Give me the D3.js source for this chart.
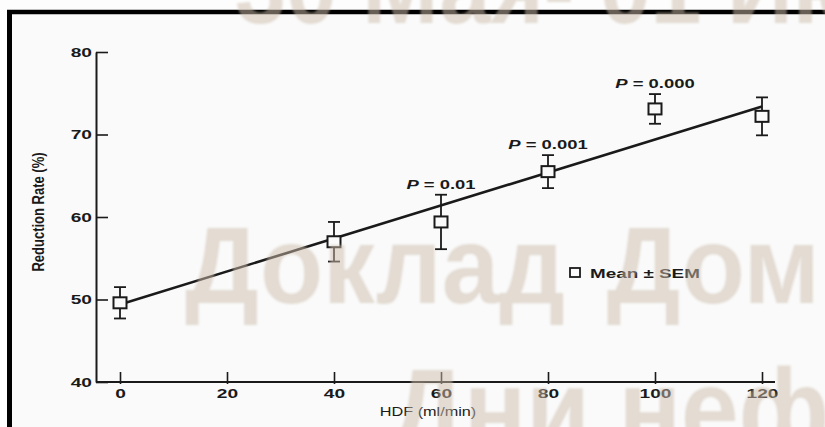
<!DOCTYPE html>
<html>
<head>
<meta charset="utf-8">
<script src="https://cdn.jsdelivr.net/npm/d3@7"></script>
<style>
  html, body { margin: 0; padding: 0; background: #fdfdfd; }
  svg { display: block; }
</style>
</head>
<body>
<svg id="chart" width="825" height="427"></svg>
<script>
// Reduction rate versus HDF flow
const hdfFlow = [0, 40, 60, 80, 100, 120];
const meanRate = [49.6, 57.0, 59.4, 65.5, 73.1, 72.2];
const semRate = [1.9, 2.4, 3.3, 2.0, 1.8, 2.3];

// Linear fit endpoints
const fitFlow = [0, 120];
const fitRate = [49.4, 73.4];

// Significance annotations
const pFlow = [60, 80, 100];
const pValue = ["0.01", "0.001", "0.000"];

const xTicks = [0, 20, 40, 60, 80, 100, 120];
const yTicks = [40, 50, 60, 70, 80];

const xTitle = "HDF (ml/min)";
const yTitle = "Reduction Rate (%)";
const legendText = "Mean \u00b1 SEM";

const bannerLines = ["30 Мая- 01 Июня", "Доклад Дом нефтяников", "Дни нефтяника"];

const svg = d3.select("#chart");
const ink = "#1a1a1a";
const stretch = 1.42;

// panel background and frame
svg.append("rect").attr("x", 7).attr("y", 10).attr("width", 818).attr("height", 417).attr("fill", "#fafafa");
svg.append("line").attr("x1", 7).attr("x2", 825).attr("y1", 12).attr("y2", 12)
  .attr("stroke", "#000").attr("stroke-width", 4.5);
svg.append("line").attr("x1", 9.5).attr("x2", 9.5).attr("y1", 10).attr("y2", 427)
  .attr("stroke", "#000").attr("stroke-width", 5);

const x = d3.scaleLinear().domain([0, 120]).range([120, 762]);
const y = d3.scaleLinear().domain([40, 80]).range([382, 52]);

const font = "'Liberation Sans', Arial, sans-serif";

// y axis
const yAxis = svg.append("g")
  .attr("transform", "translate(96,0)")
  .call(d3.axisLeft(y).tickValues(yTicks).tickSizeInner(-12).tickSizeOuter(0).tickPadding(4));
yAxis.select(".domain").attr("stroke", ink).attr("stroke-width", 2);
yAxis.selectAll(".tick line").attr("stroke", ink).attr("stroke-width", 1.6);
yAxis.selectAll(".tick text")
  .attr("font-family", font).attr("font-weight", "bold").attr("font-size", 13.5).attr("fill", ink)
  .each(function () {
    const t = d3.select(this);
    t.attr("x", +t.attr("x") / stretch).attr("transform", `scale(${stretch},1)`);
  });

// x axis
const xAxis = svg.append("g")
  .attr("transform", "translate(0,382)")
  .call(d3.axisBottom(x).tickValues(xTicks).tickSizeInner(-10).tickSizeOuter(0).tickPadding(6));
xAxis.select(".domain").remove();
xAxis.append("line").attr("x1", 96).attr("x2", 775).attr("y1", 0).attr("y2", 0)
  .attr("stroke", ink).attr("stroke-width", 2);
xAxis.selectAll(".tick line").attr("stroke", ink).attr("stroke-width", 1.6).attr("y1", 2).attr("y2", -10);
xAxis.selectAll(".tick text")
  .attr("font-family", font).attr("font-weight", "bold").attr("font-size", 13.5).attr("fill", ink)
  .attr("transform", `scale(${stretch},1)`);

// axis titles
svg.append("text")
  .attr("transform", `translate(428,416) scale(1.25,1)`)
  .attr("text-anchor", "middle")
  .attr("font-family", font).attr("font-size", 13).attr("fill", ink)
  .text(xTitle);
svg.append("text")
  .attr("transform", `translate(44,212) rotate(-90) scale(1,1.3)`)
  .attr("text-anchor", "middle")
  .attr("font-family", font).attr("font-weight", "bold").attr("font-size", 13).attr("fill", ink)
  .text(yTitle);

// fitted line
const line = d3.line().x(d => x(d[0])).y(d => y(d[1]));
svg.append("path")
  .datum(fitFlow.map((f, i) => [f, fitRate[i]]))
  .attr("d", line)
  .attr("fill", "none").attr("stroke", ink).attr("stroke-width", 2.6);

// error bars and markers
const pts = hdfFlow.map((f, i) => ({ f, m: meanRate[i], s: semRate[i] }));
const capW = 12;
const g = svg.append("g").selectAll("g").data(pts).join("g");
g.append("line")
  .attr("x1", d => x(d.f)).attr("x2", d => x(d.f))
  .attr("y1", d => y(d.m - d.s)).attr("y2", d => y(d.m + d.s))
  .attr("stroke", ink).attr("stroke-width", 1.8);
g.append("line")
  .attr("x1", d => x(d.f) - capW / 2).attr("x2", d => x(d.f) + capW / 2)
  .attr("y1", d => y(d.m + d.s)).attr("y2", d => y(d.m + d.s))
  .attr("stroke", ink).attr("stroke-width", 1.8);
g.append("line")
  .attr("x1", d => x(d.f) - capW / 2).attr("x2", d => x(d.f) + capW / 2)
  .attr("y1", d => y(d.m - d.s)).attr("y2", d => y(d.m - d.s))
  .attr("stroke", ink).attr("stroke-width", 1.8);
g.append("rect")
  .attr("x", d => x(d.f) - 6.5).attr("y", d => y(d.m) - 5.5)
  .attr("width", 13).attr("height", 11)
  .attr("fill", "#fafafa").attr("stroke", ink).attr("stroke-width", 2);

// P value annotations
pFlow.forEach((f, i) => {
  const k = hdfFlow.indexOf(f);
  const t = svg.append("text")
    .attr("transform", `translate(${x(f)},${y(meanRate[k] + semRate[k]) - 6}) scale(${stretch},1)`)
    .attr("text-anchor", "middle")
    .attr("font-family", font).attr("font-weight", "bold").attr("font-size", 13).attr("fill", ink);
  t.append("tspan").attr("font-style", "italic").text("P");
  t.append("tspan").text(" = " + pValue[i]);
});

// legend
svg.append("rect").attr("x", 570).attr("y", 268).attr("width", 10).attr("height", 9)
  .attr("fill", "#fafafa").attr("stroke", ink).attr("stroke-width", 1.8);
svg.append("text")
  .attr("transform", `translate(590,278) scale(1.45,1)`)
  .attr("font-family", font).attr("font-weight", "bold").attr("font-size", 13).attr("fill", ink)
  .text(legendText);

// translucent banner lettering
const blur = svg.append("defs").append("filter").attr("id", "soft");
blur.append("feGaussianBlur").attr("stdDeviation", 1.2);
const banner = svg.append("g")
  .attr("font-family", font).attr("font-weight", "bold")
  .attr("fill", "rgb(205,190,172)").attr("fill-opacity", 0.5).attr("filter", "url(#soft)");
banner.append("text").attr("transform", "translate(235,23) scale(0.88,1)")
  .attr("font-size", 104).text(bannerLines[0]);
banner.append("text").attr("transform", "translate(185,303) scale(0.94,1)")
  .attr("font-size", 110).attr("word-spacing", 14).text(bannerLines[1]);
banner.append("text").attr("transform", "translate(390,449) scale(0.9,1)")
  .attr("font-size", 115).text(bannerLines[2]);
</script>
</body>
</html>
